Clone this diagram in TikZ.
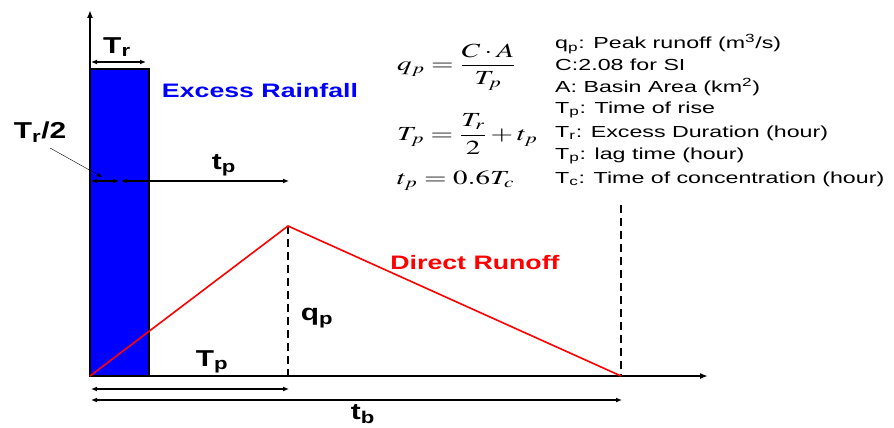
\documentclass[tikz,border=0pt]{standalone}
\usepackage{amsmath}
\usepackage{mathptmx}
\usepackage{fontspec}
\setmainfont{Liberation Sans}
\usepackage{tikz}
\usetikzlibrary{arrows.meta,positioning}
\newcommand{\lbl}[2]{\textbf{#1}\textsubscript{\textbf{#2}}}
\newcommand{\wide}[2][1.4]{\scalebox{#1}[1]{#2}}

\begin{document}
\begin{tikzpicture}[x=1pt, y=-1pt,
  axis/.style={line width=1.6pt, -{Latex[length=8pt,width=6pt]}},
  dim/.style={line width=1.3pt, {Latex[length=6pt,width=5pt]}-{Latex[length=6pt,width=5pt]}},
  guide/.style={line width=2.6pt, dash pattern=on 8pt off 5pt},
  runoff/.style={red, line width=1.6pt},
  big/.style={inner sep=0pt, font=\fontsize{23}{26}\selectfont\bfseries},
  title/.style={inner sep=0pt, font=\fontsize{19.5}{22}\selectfont\bfseries},
  key/.style={anchor=west, inner sep=0pt, font=\fontsize{16}{18}\selectfont},
  eq/.style={anchor=west, inner sep=0pt, font=\fontsize{20}{24}\selectfont}]
\useasboundingbox (0,0) rectangle (894,428);
% reference points
\coordinate (o) at (90,376);
\coordinate (top) at (90,10);
\coordinate (xend) at (708,376);
\coordinate (pk) at (288,226);
\coordinate (pkb) at (288,376);
\coordinate (end) at (621,376);
\coordinate (endt) at (621,205);
% rainfall block
\draw[line width=2.2pt, fill=blue] (90,69) rectangle (149,376);
\node[title, text=blue] (rain) at (260,91) {\wide[1.37]{Excess Rainfall}};
% axes
\draw[axis] (o) -- (top);
\draw[axis] (o) -- (xend);
% hydrograph
\draw[guide] (pk) -- (pkb);
\draw[guide] (endt) -- (end);
\draw[runoff] (o) -- (pk) -- (end);
\node[title, text=red] (dro) at (475,263) {\wide[1.37]{Direct Runoff}};
% dimensions
\coordinate (tr0) at (91,62);
\coordinate (tr1) at (146,62);
\draw[dim] (tr0) -- (tr1);
\node[big] (trl) at (117,47) {\wide[1.3]{\lbl{T}{r}}};
\coordinate (h0) at (91,181);
\coordinate (h1) at (119,181);
\coordinate (h2) at (121,181);
\coordinate (h3) at (289,181);
\draw[dim] (h0) -- (h1);
\draw[dim] (h2) -- (h3);
\node[big] (half) at (40,132) {\wide[1.3]{\lbl{T}{r}\textbf{/2}}};
\coordinate (halfp) at (102,177);
\draw[line width=0.4pt, -{Latex[length=5pt,width=4pt]}] (50,148) -- (halfp);
\node[big] (tpl) at (224,165) {\wide[1.3]{\lbl{t}{p}}};
\node[big] (qpl) at (317,318) {\wide[1.3]{\lbl{q}{p}}};
\node[big] (Tpl) at (212,362) {\wide[1.3]{\lbl{T}{p}}};
\coordinate (a0) at (91,389);
\coordinate (a1) at (289,389);
\coordinate (b0) at (91,400);
\coordinate (b1) at (622,400);
\draw[dim] (a0) -- (a1);
\draw[dim] (b0) -- (b1);
\node[big] (tbl) at (363,414) {\wide[1.3]{\lbl{t}{b}}};
% formulas
\node[eq] (f1) at (397,67) {\wide[1.45]{$q_p=\dfrac{C\cdot A}{T_p}$}};
\node[eq] (f2) at (397,134) {\wide[1.45]{$T_p=\dfrac{T_r}{2}+t_p$}};
\node[eq] (f3) at (397,181) {\wide[1.45]{$t_p=0.6T_c$}};
% legend
\node[key] (k1) at (555,44) {\wide[1.45]{q\textsubscript{p}: Peak runoff (m\textsuperscript{3}/s)}};
\node[key] (k2) at (555,65) {\wide[1.45]{C:2.08 for SI}};
\node[key] (k3) at (555,87) {\wide[1.45]{A: Basin Area (km\textsuperscript{2})}};
\node[key] (k4) at (555,110) {\wide[1.45]{T\textsubscript{p}: Time of rise}};
\node[key] (k5) at (555,133) {\wide[1.45]{T\textsubscript{r}: Excess Duration (hour)}};
\node[key] (k6) at (555,156) {\wide[1.45]{T\textsubscript{p}: lag time (hour)}};
\node[key] (k7) at (555,179) {\wide[1.45]{T\textsubscript{c}: Time of concentration (hour)}};
\end{tikzpicture}
\end{document}
